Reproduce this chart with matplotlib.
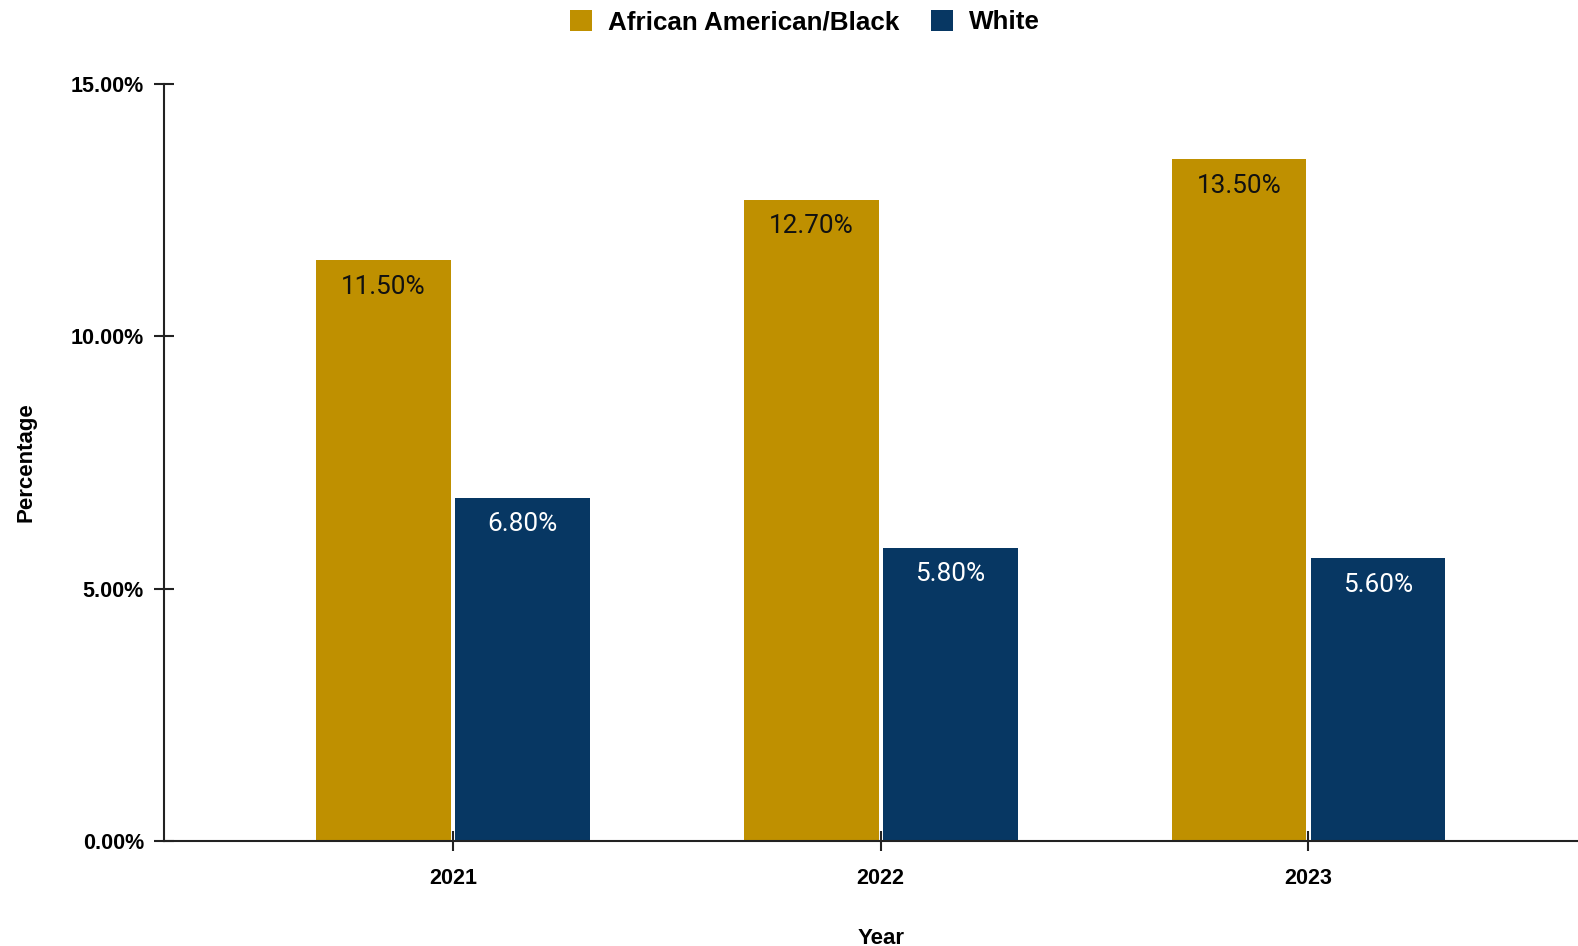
#!/usr/bin/env python3
"""Grouped bars: African American/Black vs White percentages by year."""

import matplotlib
matplotlib.use('Agg')
import matplotlib.pyplot as plt
from matplotlib.patches import Patch
import numpy as np

years = ['2021', '2022', '2023']
black_pct = [11.5, 12.7, 13.5]
white_pct = [6.8, 5.8, 5.6]
y_ticks = [0, 5, 10, 15]

GOLD = '#bf9000'
NAVY = '#073763'

fig = plt.figure(figsize=(15.78, 9.46), dpi=100)
ax = fig.add_axes([0.104, 0.111, 0.896, 0.8007])

x = np.arange(len(years))
w = 0.315
off = 0.1625
ax.bar(x - off, black_pct, w, color=GOLD, zorder=2)
ax.bar(x + off, white_pct, w, color=NAVY, zorder=2)

for xi, v in zip(x, black_pct):
    ax.annotate(f'{v:.2f}%', (xi - off, v), xytext=(0, -19), textcoords='offset points',
                ha='center', va='center', fontsize=18.8, family='Roboto', color='#111111')
for xi, v in zip(x, white_pct):
    ax.annotate(f'{v:.2f}%', (xi + off, v), xytext=(0, -19), textcoords='offset points',
                ha='center', va='center', fontsize=18.8, family='Roboto', color='white')

ax.set_xlim(-0.675, 2.63)
ax.set_ylim(0, 15)
ax.set_xticks(x)
ax.set_xticklabels(years)
ax.set_yticks(y_ticks)
ax.set_yticklabels([f'{t:.2f}%' for t in y_ticks])

for lab in ax.get_xticklabels() + ax.get_yticklabels():
    lab.set_family('Liberation Sans')
    lab.set_fontweight('bold')
    lab.set_fontsize(15.5)

ax.tick_params(axis='both', direction='inout', length=15, width=1.5, color='#222222')
ax.tick_params(axis='x', pad=12)
ax.tick_params(axis='y', pad=7)

for side in ['top', 'right']:
    ax.spines[side].set_visible(False)
for side in ['left', 'bottom']:
    ax.spines[side].set_linewidth(1.5)
    ax.spines[side].set_color('#222222')

ax.set_ylabel('Percentage', family='Liberation Sans', fontweight='bold', fontsize=16, labelpad=25)
ax.set_xlabel('Year', family='Liberation Sans', fontweight='bold', fontsize=16, labelpad=28)
ax.xaxis.label.set_x(0.507)

handles = [Patch(facecolor=GOLD, label='African American/Black'),
           Patch(facecolor=NAVY, label='White')]
fig.legend(handles=handles, loc='center', bbox_to_anchor=(0.5102, 1 - 22 / 946), ncol=2,
           frameon=False, prop={'family': 'Liberation Sans', 'weight': 'bold', 'size': 18.7},
           handlelength=0.85, handleheight=0.85, handletextpad=0.62, columnspacing=1.2)

fig.savefig('out.png', dpi=100)
